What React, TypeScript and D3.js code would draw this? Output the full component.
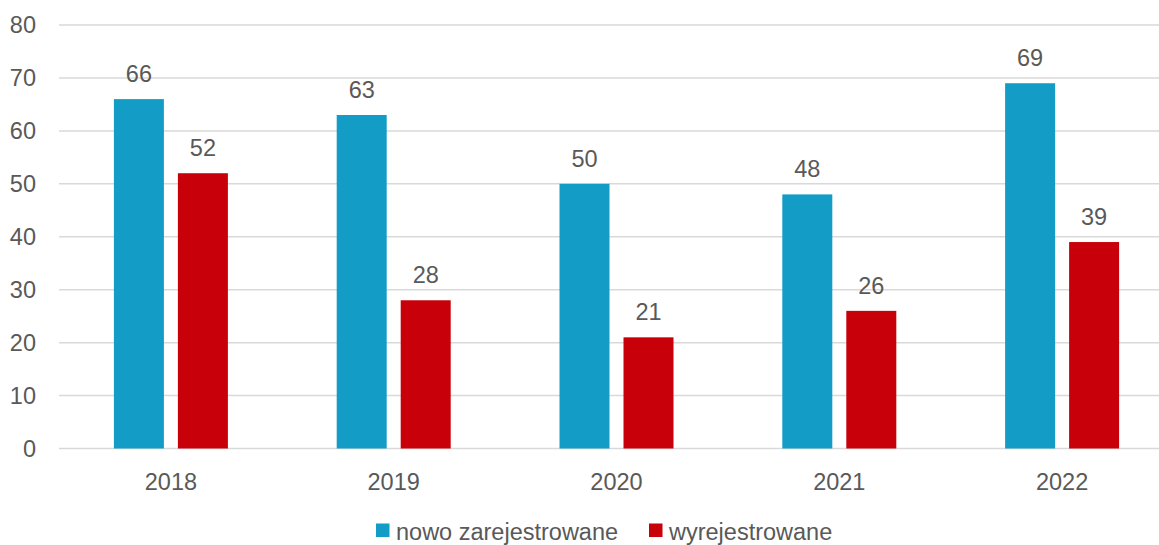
import { useRef, useEffect } from 'react'
import * as d3 from 'd3'

const years = ['2018', '2019', '2020', '2021', '2022']
const seriesNames = ['nowo zarejestrowane', 'wyrejestrowane']
const nowoValues = [66, 63, 50, 48, 69]
const wyrejValues = [52, 28, 21, 26, 39]
const yTicks = [0, 10, 20, 30, 40, 50, 60, 70, 80]

const colors = ['#139dc6', '#c8000a']
const textColor = '#595959'
const font = '"Liberation Sans", Arial, sans-serif'
const fontSize = 23.5

const width = 1159
const height = 545

function drawChart(target: SVGSVGElement) {
  const svg = d3.select(target)
  svg.selectAll('*').remove()
  svg.attr('width', width).attr('height', height)

  const rows = years.map((year, i) => ({ year, values: [nowoValues[i], wyrejValues[i]] }))

  const x0 = d3.scaleBand().domain(years).range([59.5, 1173.5]).padding(0)
  const x1 = d3
    .scaleBand()
    .domain(seriesNames)
    .range([0, x0.bandwidth()])
    .paddingInner(0.21875)
    .paddingOuter(0.85)
  const y = d3.scaleLinear().domain([0, 80]).range([448.5, 25])

  // grid
  svg
    .append('g')
    .selectAll('line')
    .data(yTicks)
    .enter()
    .append('line')
    .attr('x1', 59)
    .attr('x2', width)
    .attr('y1', (d) => y(d))
    .attr('y2', (d) => y(d))
    .attr('stroke', '#d9d9d9')
    .attr('stroke-width', 1.5)

  // y labels
  svg
    .append('g')
    .selectAll('text')
    .data(yTicks)
    .enter()
    .append('text')
    .attr('x', 36)
    .attr('y', (d) => y(d))
    .attr('dy', '0.35em')
    .attr('text-anchor', 'end')
    .attr('font-family', font)
    .attr('font-size', fontSize)
    .attr('fill', textColor)
    .text((d) => d)

  const groups = svg
    .append('g')
    .selectAll('g')
    .data(rows)
    .enter()
    .append('g')
    .attr('transform', (d) => `translate(${x0(d.year)},0)`)

  groups
    .selectAll('rect')
    .data((d) => d.values.map((v, i) => ({ key: seriesNames[i], v, i })))
    .enter()
    .append('rect')
    .attr('x', (d) => x1(d.key)!)
    .attr('width', x1.bandwidth())
    .attr('y', (d) => y(d.v))
    .attr('height', (d) => y(0) - y(d.v))
    .attr('fill', (d) => colors[d.i])

  groups
    .selectAll('text')
    .data((d) => d.values.map((v, i) => ({ key: seriesNames[i], v, i })))
    .enter()
    .append('text')
    .attr('x', (d) => x1(d.key)! + x1.bandwidth() / 2)
    .attr('y', (d) => y(d.v) - 17)
    .attr('text-anchor', 'middle')
    .attr('font-family', font)
    .attr('font-size', fontSize)
    .attr('fill', textColor)
    .text((d) => d.v)

  // x labels
  svg
    .append('g')
    .selectAll('text')
    .data(years)
    .enter()
    .append('text')
    .attr('x', (d) => x0(d)! + x0.bandwidth() / 2)
    .attr('y', 490)
    .attr('text-anchor', 'middle')
    .attr('font-family', font)
    .attr('font-size', fontSize)
    .attr('fill', textColor)
    .text((d) => d)

  // legend
  const legendX = [376, 649]
  const legend = svg
    .append('g')
    .selectAll('g')
    .data(seriesNames)
    .enter()
    .append('g')
    .attr('transform', (d, i) => `translate(${legendX[i]},0)`)

  legend
    .append('rect')
    .attr('x', 0)
    .attr('y', 523.5)
    .attr('width', 13.5)
    .attr('height', 13.5)
    .attr('fill', (d, i) => colors[i])

  legend
    .append('text')
    .attr('x', 20)
    .attr('y', 539.5)
    .attr('font-family', font)
    .attr('font-size', fontSize)
    .attr('fill', textColor)
    .text((d) => d)
}

export default function App() {
  const targetSVG = useRef<SVGSVGElement>(null)

  useEffect(() => {
    if (targetSVG.current) drawChart(targetSVG.current)
  }, [])

  return (
    <div>
      <svg ref={targetSVG} style={{ position: 'absolute', left: 0, top: 0, background: '#fff' }} />
    </div>
  )
}
